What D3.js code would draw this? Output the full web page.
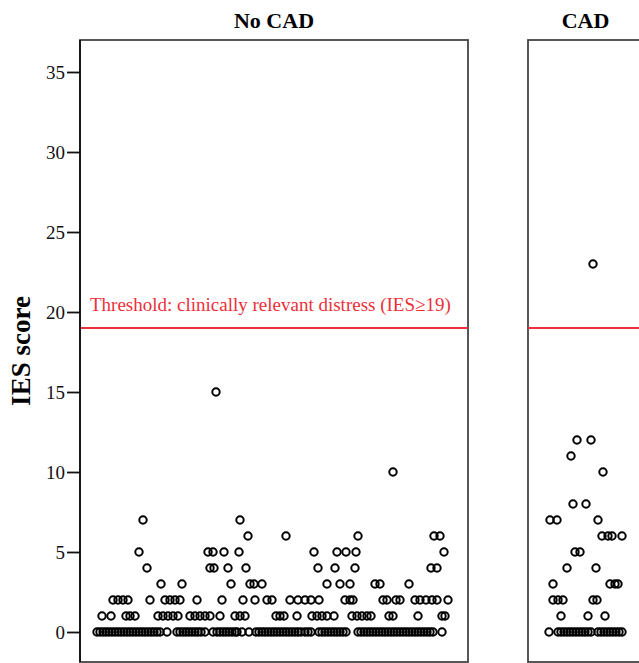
<!DOCTYPE html>
<html>
<head>
  <meta charset="utf-8">
  <script src="https://d3js.org/d3.v7.min.js"></script>
  <style>
  body {
    margin: 0;
    overflow: hidden;
    background: #fff;
  }
  text {
    font-family: "Liberation Serif", "Times New Roman", serif;
  }
  .y.axis text {
    font-size: 19px;
    fill: #111;
  }
  .y.axis path, .y.axis line {
    stroke: #111;
    stroke-width: 1.8px;
  }
  .frame {
    fill: none;
    stroke: #444;
    stroke-width: 1.8px;
  }
  .dot {
    fill: none;
    stroke: #000;
    stroke-width: 2px;
  }
  .threshold {
    stroke: #ec2f3a;
    stroke-width: 2px;
  }
  </style>
</head>
<body>
<script>

  // panels (x = order of the subject within its group)
  var groups = ["No CAD", "CAD"];
  var yTicks = [0, 5, 10, 15, 20, 25, 30, 35];
  var threshold = 19;
  var thresholdLabel = "Threshold: clinically relevant distress (IES\u226519)";

  // [order, IES score] - No CAD group
  var noCad = [
    [8.5,0],[10,0],[11.5,0],[13,0],[14.5,0],[16,0],[17.5,0],[19,0],[20.5,0],[22,0],[23.5,0],[25,0],[26.5,0],
    [28,0],[29.5,0],[31,0],[32.5,0],[34,0],[35.5,0],[37,0],[38.5,0],[40,0],[43.5,0],
    [48.5,0],[50,0],[51.5,0],[53,0],[54.5,0],[56,0],[57.5,0],[59,0],[60.5,0],[62.5,0],
    [66.5,0],[68.5,0],[70,0],[71.5,0],[73,0],[74.5,0],[76,0],[77.5,0],[78.5,0],[81,0],[84.5,0],
    [88,0],[89.5,0],[91,0],[92.5,0],[94,0],[95.5,0],[97,0],[98.5,0],[100,0],[101.5,0],[103,0],[104.5,0],
    [106,0],[107.5,0],[109,0],[110.5,0],[112.5,0],[114,0],[115.5,0],
    [119.5,0],[121,0],[122.5,0],[124,0],[125.5,0],[127,0],[128.5,0],[130,0],[131.5,0],[133,0],
    [139,0],[140.5,0],[142,0],[143.5,0],[145,0],[146.5,0],[148,0],[149.5,0],[151,0],[152.5,0],[154,0],
    [155.5,0],[157,0],[158.5,0],[160,0],[161.5,0],[163,0],[164.5,0],[166,0],[167.5,0],[169,0],[170.5,0],
    [172,0],[173.5,0],[175,0],[176.5,0],[181,0],
    [11,1],[15.5,1],[23,1],[25,1],[27.5,1],[39,1],[41.5,1],[44,1],[46.5,1],[49,1],[55,1],[57.5,1],[60,1],
    [62.5,1],[65,1],[70,1],[77.5,1],[80,1],[82.5,1],[98,1],[100,1],[102,1],[108.5,1],[116,1],[118.5,1],
    [121,1],[123.5,1],[127,1],[136,1],[138.5,1],[141,1],[143.5,1],[145.5,1],[154.5,1],[156.5,1],[169,1],
    [181,1],[182.5,1],
    [16.5,2],[19,2],[21.5,2],[24,2],[35,2],[42.5,2],[45,2],[47.5,2],[50,2],[58.5,2],[71,2],[81.5,2],
    [87.5,2],[93.5,2],[96,2],[105,2],[109,2],[112.5,2],[115.5,2],[119.5,2],[132.5,2],[135,2],[136.5,2],
    [151.5,2],[153.5,2],[158,2],[160,2],[167.5,2],[170,2],[173,2],[176,2],[178.5,2],[184,2],
    [40.5,3],[51,3],[75.5,3],[85,3],[87,3],[91,3],[123.5,3],[130,3],[135,3],[147.5,3],[150,3],[164.5,3],
    [33.5,4],[65,4],[67,4],[74,4],[83,4],[119,4],[127.5,4],[137.5,4],[175.5,4],[178.5,4],
    [29.5,5],[64,5],[66.5,5],[72,5],[79.5,5],[117,5],[128.5,5],[133,5],[138,5],[182,5],
    [84,6],[103,6],[139,6],[177,6],[180,6],
    [31.5,7],[80,7],
    [156.5,10],
    [68,15]
  ];

  // [order, IES score] - CAD group
  var cad = [
    [10.5,0],[15,0],[16.5,0],[18,0],[19.5,0],[21,0],[22.5,0],[24,0],[25.5,0],[27,0],[28.5,0],[30,0],[31.5,0],
    [35,0],[36.5,0],[38,0],[39.5,0],[41,0],[42.5,0],[44,0],[45.5,0],[47,0],
    [16.5,1],[30,1],[38.5,1],
    [12.5,2],[15,2],[17.5,2],[32.5,2],[34.5,2],
    [12.5,3],[41,3],[43.5,3],[45,3],
    [19.5,4],[34,4],
    [23.5,5],[26,5],
    [37,6],[40,6],[42,6],[47,6],
    [11,7],[14.5,7],[35,7],
    [22.5,8],[29,8],
    [37.5,10],
    [21.5,11],
    [24.5,12],[31.5,12],
    [32.5,23]
  ];

  var width = 639, height = 663;

  var svg = d3.select("body").append("svg")
    .attr("width", width)
    .attr("height", height);

  var y = d3.scaleLinear().domain([-1.875, 37]).range([662, 40]);

  var panels = [
    {name: groups[0], data: noCad, x: d3.scaleLinear().domain([0, 194]).range([80, 468])},
    {name: groups[1], data: cad, x: d3.scaleLinear().domain([0, 57.5]).range([528, 643])}
  ];

  panels.forEach(function(p, i) {
    var r = p.x.range();
    var g = svg.append("g");

    g.append("rect")
      .attr("class", "frame")
      .attr("x", r[0])
      .attr("y", y.range()[1])
      .attr("width", r[1] - r[0])
      .attr("height", y.range()[0] - y.range()[1]);

    g.append("text")
      .attr("x", (r[0] + r[1]) / 2)
      .attr("y", 28)
      .attr("text-anchor", "middle")
      .style("font-size", "22px")
      .style("font-weight", "bold")
      .text(p.name);

    g.append("line")
      .attr("class", "threshold")
      .attr("x1", r[0])
      .attr("x2", r[1])
      .attr("y1", y(threshold))
      .attr("y2", y(threshold));

    if (i === 0) {
      g.append("text")
        .attr("x", r[0] + 10)
        .attr("y", y(threshold) - 17)
        .style("font-size", "19px")
        .style("fill", "#ec2f3a")
        .text(thresholdLabel);
    }

    g.selectAll(".dot")
      .data(p.data)
      .enter().append("circle")
      .attr("class", "dot")
      .attr("cx", function(d) { return p.x(d[0]); })
      .attr("cy", function(d) { return y(d[1]); })
      .attr("r", 3.7);
  });

  var yAxis = d3.axisLeft(y).tickValues(yTicks).tickSize(13).tickPadding(2);

  svg.append("g")
    .attr("class", "y axis")
    .attr("transform", "translate(80,0)")
    .call(yAxis)
    .call(function(g) { g.select(".domain").attr("d", "M0," + y.range()[1] + "V" + y.range()[0]); });

  svg.append("text")
    .attr("transform", "translate(30,351) rotate(-90)")
    .attr("text-anchor", "middle")
    .style("font-size", "27px")
    .style("font-weight", "bold")
    .text("IES score");

</script>
</body>
</html>
